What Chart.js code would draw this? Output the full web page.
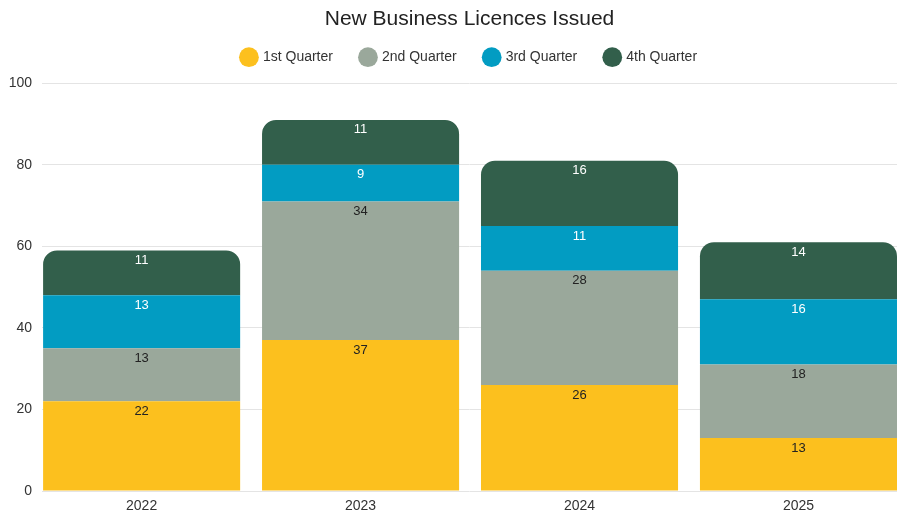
<!DOCTYPE html>
<html>
<head>
<meta charset="utf-8">
<script src="https://cdn.jsdelivr.net/npm/chart.js@4/dist/chart.umd.min.js"></script>
<style>
  html, body { margin: 0; padding: 0; background: #fff; }
  #wrap { width: 898px; height: 518px; }
</style>
</head>
<body>
<div id="wrap"><canvas id="licenceChart"></canvas></div>
<script>
// 年ごとの四半期別件数
const years = ['2022', '2023', '2024', '2025'];
const quarterNames = ['1st Quarter', '2nd Quarter', '3rd Quarter', '4th Quarter'];
const q1 = [22, 37, 26, 13];
const q2 = [13, 34, 28, 18];
const q3 = [13, 9, 11, 16];
const q4 = [11, 11, 16, 14];
const yTicks = [0, 20, 40, 60, 80, 100];

const fillColors = ['#fcc01e', '#9aa89b', '#029cc2', '#325f4b'];
const labelColors = ['#222222', '#222222', '#ffffff', '#ffffff'];

// 各セグメントの上端付近に数値を描く
const segmentLabels = {
    id: 'segmentLabels',
    afterDatasetsDraw(chart) {
        const ctx = chart.ctx;
        ctx.save();
        ctx.font = '13px "Liberation Sans", Arial, sans-serif';
        ctx.textAlign = 'center';
        ctx.textBaseline = 'middle';
        chart.data.datasets.forEach((ds, i) => {
            const meta = chart.getDatasetMeta(i);
            if (meta.hidden) return;
            meta.data.forEach((bar, j) => {
                const top = Math.min(bar.y, bar.base);
                ctx.fillStyle = labelColors[i];
                ctx.fillText(String(ds.data[j].y), bar.x, top + 10);
            });
        });
        ctx.restore();
    }
};

// 凡例の下に余白を足し、タイトルと凡例を少し右寄せにする
const headerTweak = {
    id: 'headerTweak',
    beforeInit(chart) {
        const origFit = chart.legend.fit;
        chart.legend.fit = function () {
            origFit.call(this);
            this.height += 9;
        };
    },
    afterLayout(chart) {
        [chart.titleBlock, chart.legend].forEach(box => {
            if (!box) return;
            box.left += 19;
            box.right += 19;
        });
    }
};

const seriesList = [q1, q2, q3, q4];
const datasets = seriesList.map((values, i) => ({
    label: quarterNames[i],
    data: values.map((v, k) => ({ x: k, y: v })),
    backgroundColor: fillColors[i],
    borderWidth: 0,
    borderSkipped: 'start',
    borderRadius: i === 3 ? { topLeft: 14, topRight: 14, bottomLeft: 0, bottomRight: 0 } : 0,
    barPercentage: 0.9,
    categoryPercentage: 1.0
}));

Chart.defaults.font.family = '"Liberation Sans", Arial, sans-serif';

new Chart(document.getElementById('licenceChart'), {
    type: 'bar',
    data: { datasets: datasets },
    options: {
        responsive: true,
        maintainAspectRatio: false,
        animation: false,
        layout: { padding: { left: 4, right: 1, top: 0, bottom: 4 } },
        plugins: {
            title: {
                display: true,
                text: 'New Business Licences Issued',
                color: '#222',
                font: { size: 21, weight: 'normal' },
                padding: { top: 7, bottom: -10 }
            },
            legend: {
                position: 'top',
                labels: {
                    usePointStyle: true,
                    pointStyle: 'circle',
                    boxWidth: 14,
                    boxHeight: 14,
                    padding: 28,
                    color: '#333',
                    font: { size: 14 }
                }
            },
            tooltip: { enabled: false }
        },
        scales: {
            x: {
                type: 'linear',
                stacked: true,
                offset: false,
                min: -0.455,
                max: 3.45,
                afterBuildTicks(axis) {
                    axis.ticks = years.map((y, k) => ({ value: k }));
                },
                afterFit(axis) {
                    axis.height = 23;
                },
                grid: { display: false, drawTicks: false },
                border: { display: false },
                ticks: {
                    color: '#333',
                    font: { size: 14 },
                    padding: 7,
                    callback: (v) => years[v]
                }
            },
            y: {
                stacked: true,
                min: 0,
                max: 100,
                afterBuildTicks(axis) {
                    axis.ticks = yTicks.map(v => ({ value: v }));
                },
                afterFit(axis) {
                    axis.width = 38;
                },
                grid: { color: '#e4e4e4', drawTicks: false },
                border: { display: false },
                ticks: { color: '#333', font: { size: 14 }, padding: 10 }
            }
        }
    },
    plugins: [segmentLabels, headerTweak]
});
</script>
</body>
</html>
